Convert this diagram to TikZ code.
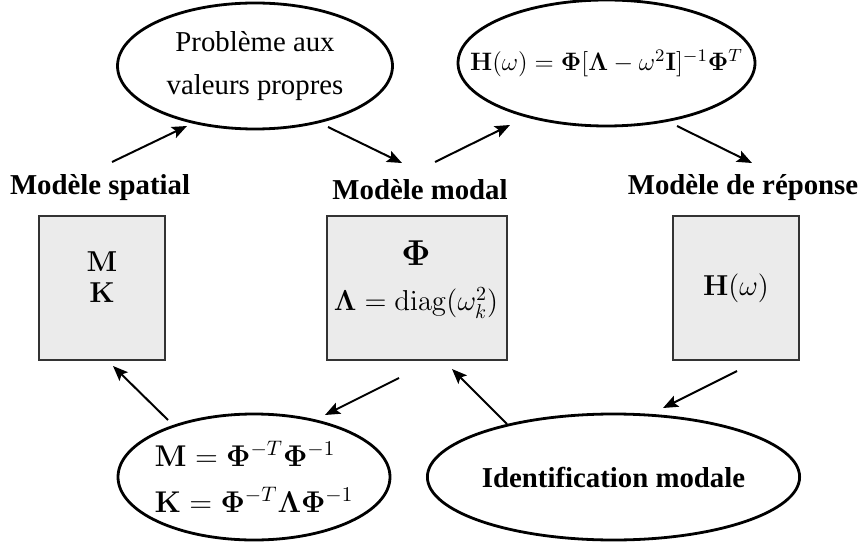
\RequirePackage{fix-cm}
\documentclass[tikz,border=0pt]{standalone}
\usepackage{amsmath}
\usepackage[no-math]{fontspec}
\setmainfont{Liberation Serif}
\usetikzlibrary{shapes.geometric,arrows.meta,calc}
\begin{document}
\begin{tikzpicture}[x=0.5pt,y=-0.5pt,
  every node/.style={font=\fontsize{14.4}{21.5}\selectfont, inner sep=0pt},
  ell/.style={draw, ellipse, line width=1.4pt, minimum width=#1, minimum height=63pt},
  boxnode/.style={draw=black!80, fill=black!8, line width=0.6pt, minimum width=#1, minimum height=72pt},
  ttl/.style={font=\fontsize{14.4}{17}\selectfont\bfseries},
  arr/.style={-{Stealth[length=7.5pt,width=6pt,inset=1.5pt]}, line width=1pt},
]
\useasboundingbox (0,0) rectangle (861,545);

\node[ell=137.5pt, align=center] (e1) at (255,66) {Problème aux\\valeurs propres};
\node[ell=148.5pt, inner xsep=-30pt, font=\fontsize{12.6}{15}\selectfont] (e2) at (606.5,63)
  {$\mathbf{H}(\omega)=\mathbf{\Phi}[\mathbf{\Lambda}-\omega^2\mathbf{I}]^{-1}\mathbf{\Phi}^T$};

\node[ttl] (t1) at (100,188) {Modèle spatial};
\node[ttl] (t2) at (420,190) {Modèle modal};
\node[ttl] (t3) at (743,188) {Modèle de réponse};

\node[boxnode=63pt] (b1) at (102,288) {};
\node[boxnode=90pt] (b2) at (417,288) {};
\node[boxnode=63pt] (b3) at (736,288) {};

\node[align=center, font=\fontsize{14.4}{15.5}\selectfont] (b1t) at (102,277.5) {$\mathbf{M}$\\$\mathbf{K}$};
\node[font=\fontsize{18}{20}\selectfont] (b2t) at (416,253.5) {$\mathbf{\Phi}$};
\node (b2u) at (416,303) {$\mathbf{\Lambda}=\mathrm{diag}(\omega_k^2)$};
\node (b3t) at (736,288) {$\mathbf{H}(\omega)$};

\node[ell=136pt, inner xsep=-30pt, align=left, font=\fontsize{15}{22}\selectfont] (e3) at (254,477)
  {$\mathbf{M}=\mathbf{\Phi}^{-T}\mathbf{\Phi}^{-1}$\\[1pt]$\mathbf{K}=\mathbf{\Phi}^{-T}\mathbf{\Lambda}\mathbf{\Phi}^{-1}$};
\node[ell=148.5pt, font=\fontsize{14.4}{17}\selectfont\bfseries] (e4) at (613.5,477) {Identification modale};

\draw[arr] ([shift={(12,-26)}]t1.center) -- ([shift={(-68,60)}]e1.center);
\draw[arr] ([shift={(73,61)}]e1.center) -- ([shift={(-18,-27)}]t2.center);
\draw[arr] ([shift={(15,-28)}]t2.center) -- ([shift={(-96.5,62)}]e2.center);
\draw[arr] ([shift={(70.5,63)}]e2.center) -- ([shift={(9,-25)}]t3.center);
\draw[arr] ([shift={(-86,-57)}]e3.center) -- ([shift={(11,78)}]b1.center);
\draw[arr] ([shift={(-18,90)}]b2.center) -- ([shift={(71,-62)}]e3.center);
\draw[arr] ([shift={(-106.5,-53)}]e4.center) -- ([shift={(35,81)}]b2.center);
\draw[arr] ([shift={(1,83)}]b3.center) -- ([shift={(49.5,-69)}]e4.center);
\end{tikzpicture}
\end{document}
